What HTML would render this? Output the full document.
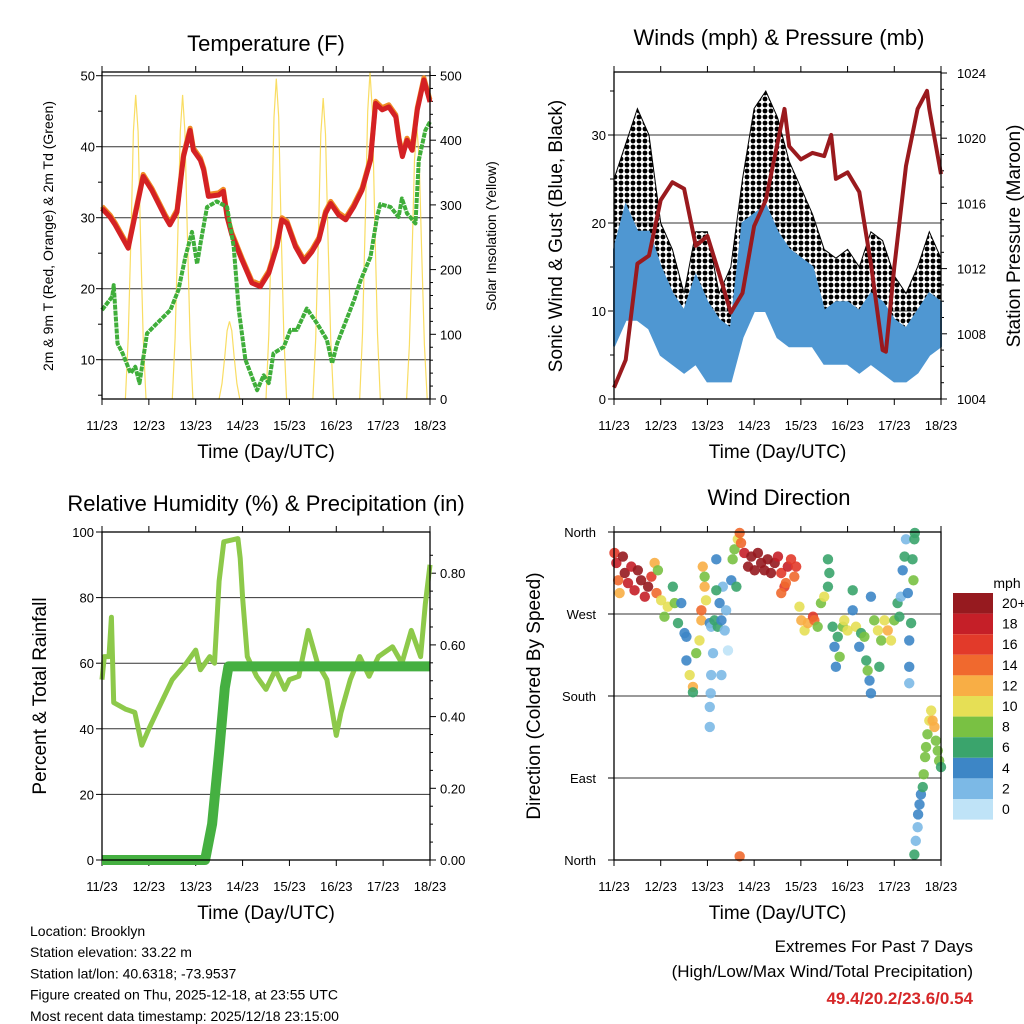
<!DOCTYPE html>
<html><head><meta charset="utf-8"><style>
html,body{margin:0;padding:0;background:#fff}
svg{display:block;font-family:"Liberation Sans",sans-serif}
</style></head><body>
<svg id="c" width="1024" height="1024" viewBox="0 0 1024 1024" xmlns="http://www.w3.org/2000/svg">
<defs>
<pattern id="dots" width="6" height="6" patternUnits="userSpaceOnUse"><circle cx="3" cy="3" r="2.4" fill="#000"/></pattern>
</defs>
</svg>
<script>
// ---------- DATA ----------
const dayLabels=["11/23","12/23","13/23","14/23","15/23","16/23","17/23","18/23"];
// Temperature (F)
const tempT=[0,0.17,0.28,0.56,0.88,1.06,1.35,1.45,1.6,1.74,1.88,1.95,2.1,2.17,2.27,2.49,2.59,2.67,2.77,2.99,3.2,3.38,3.56,3.73,3.84,3.95,4.13,4.31,4.48,4.63,4.77,4.88,5.05,5.2,5.37,5.55,5.73,5.84,5.98,6.12,6.27,6.34,6.41,6.51,6.62,6.73,6.87,7.0];
const tempV=[31.3,30.1,29,25.7,35.8,33.9,30.1,29,30.8,38.6,42.3,39.5,38.1,36.7,33,33.2,33.7,30.1,27.6,24,20.8,20.3,22.2,25.9,29.7,29.2,25.9,23.8,25.2,26.9,30.6,32,30.4,29.7,31.5,33.9,38.1,46.1,45.2,45.6,44.2,40.9,38.6,40.9,39.5,45.2,49.4,46.3];
const dewT=[0,0.22,0.25,0.33,0.44,0.61,0.71,0.8,0.96,1.17,1.46,1.63,1.78,1.92,2.03,2.1,2.24,2.45,2.67,2.81,2.92,3.06,3.31,3.45,3.56,3.66,3.88,4.02,4.16,4.37,4.59,4.8,4.91,5.02,5.38,5.52,5.73,5.87,5.94,6.16,6.33,6.4,6.51,6.69,6.76,6.9,7.0];
const dewV=[17,18.9,20.5,12.3,10.9,8.1,9,6.7,13.7,15.1,17,19.8,24.5,28,23.5,26.3,31.5,32.3,31.5,25.9,17,10,5.7,7.8,6.7,10.9,11.8,14.2,14.2,17.2,15.1,12.8,9.5,12.3,18.4,21.2,24.5,30.1,31.9,31.5,30.1,32.7,30.6,29.2,38.1,42.3,43.5];
const solarDay=[0,1,2,3,4,5,6];
const solarPeak=[470,470,120,495,465,505,420];
// Winds
const windT=[0,0.25,0.5,0.75,1,1.25,1.5,1.75,2,2.25,2.5,2.75,3,3.25,3.5,3.75,4,4.25,4.5,4.75,5,5.25,5.5,5.75,6,6.25,6.5,6.75,7];
const windLo=[6,9,9,8,5,4,3,4,2,2,2,7,10,10,7,6,6,6,4,4,4,3,4,3,2,2,3,5,6];
const windHi=[17,22,19,19,15,12,10,14,11,9,8,20,21,22,19,17,16,15,10,11,11,10,12,11,9,8,10,12,11];
const gustLo=[10,14,17,16,9,8,5,8,5,3,4,12,16,18,15,12,10,9,6,7,7,7,8,7,5,6,7,10,9];
const gustHi=[25,29,33,30,20,17,12,19,19,12,15,25,33,35,32,27,24,21,17,16,17,15,19,18,14,12,15,19,16];
const presT=[0,0.25,0.5,0.75,1,1.25,1.5,1.75,2,2.25,2.5,2.75,3,3.25,3.5,3.65,3.75,4,4.25,4.5,4.65,4.75,5,5.25,5.5,5.75,5.82,6,6.25,6.5,6.7,6.75,7];
const presV=[1004.7,1006.4,1012.3,1012.8,1016.2,1017.3,1016.9,1013.4,1014,1011.7,1009.3,1010.5,1014.6,1016.2,1019.7,1021.8,1019.5,1018.7,1019.1,1018.9,1020.2,1017.5,1017.9,1016.7,1012.3,1007,1006.9,1012.1,1018.3,1021.8,1022.9,1021.8,1017.8];
// RH & precip
const rhT=[0,0.05,0.15,0.2,0.25,0.5,0.7,0.85,1.0,1.2,1.5,1.8,2.0,2.1,2.3,2.4,2.5,2.6,2.9,2.95,3.0,3.1,3.3,3.5,3.7,3.9,4.0,4.2,4.4,4.6,4.8,5.0,5.1,5.3,5.5,5.7,5.9,6.2,6.4,6.6,6.8,6.9,7.0];
const rhV=[55,62,62,74,48,46,45,35,40,46,55,60,64,58,62,60,85,97,98,92,80,62,56,52,58,52,55,56,70,60,55,38,45,55,62,56,62,65,60,70,62,78,90];
const prT=[0,2.2,2.35,2.5,2.62,2.7,7.0];
const prV=[0,0,0.1,0.3,0.48,0.54,0.54];
// Wind direction
const dirT=[0.01,0.05,0.09,0.12,0.19,0.23,0.30,0.37,0.44,0.51,0.58,0.66,0.73,0.80,0.87,0.91,0.94,1.01,1.08,1.15,1.26,1.30,1.37,1.44,1.51,1.55,1.55,1.62,1.69,1.69,1.76,1.83,1.87,1.87,1.90,1.94,1.97,1.94,2.05,2.08,2.12,2.08,2.07,2.05,2.05,2.15,2.22,2.26,2.30,2.33,2.37,2.40,2.44,2.30,2.19,2.19,2.51,2.54,2.58,2.62,2.65,2.69,2.72,2.79,2.87,2.94,3.01,3.08,3.15,3.22,3.29,3.36,3.44,3.51,3.58,3.65,3.72,3.79,3.86,3.90,3.58,3.68,3.97,4.01,4.08,4.15,4.26,4.29,4.36,4.43,4.50,4.58,4.58,4.61,4.68,4.72,4.75,4.79,4.83,4.90,4.93,5.00,5.11,5.11,5.18,5.25,5.29,5.36,5.40,5.43,5.47,5.50,5.50,5.57,5.65,5.68,5.72,5.79,5.86,5.93,6.00,6.07,6.11,6.14,6.18,6.22,6.25,6.29,6.32,6.32,6.32,6.36,6.39,6.43,6.44,6.41,6.43,6.46,6.50,6.51,6.54,6.57,6.61,6.63,6.66,6.68,6.71,6.75,6.79,6.82,6.86,6.89,6.93,6.96,7.00,2.69];
const dirD=[337,326,307,293,333,315,304,322,296,318,307,289,300,311,326,293,318,285,267,278,300,282,260,282,249,245,219,203,190,184,227,241,263,274,322,300,285,311,260,256,227,203,183,168,146,263,256,282,263,300,252,274,230,203,330,296,307,330,341,300,352,359,348,337,322,333,318,337,326,318,330,315,326,333,315,300,322,330,311,322,293,304,278,263,252,260,267,263,256,282,289,300,330,315,256,234,212,245,223,256,263,252,296,274,256,234,249,245,219,208,197,183,289,263,252,212,241,263,252,241,263,282,267,289,318,333,352,293,241,212,194,260,330,352,359,307,6,21,36,50,61,72,80,94,113,124,138,153,164,153,146,131,120,109,102,4];
const dirS=[16,18,14,12,20,20,18,18,18,20,20,18,20,16,12,14,8,10,8,10,6,8,6,4,4,4,4,10,12,6,8,10,12,14,12,12,10,8,4,2,2,2,2,2,2,6,6,4,4,2,2,2,0,2,4,6,4,8,8,6,10,14,14,18,20,20,20,20,20,20,20,20,20,18,16,16,18,16,14,16,14,14,10,12,10,12,16,14,8,8,10,6,6,6,6,4,4,6,8,8,10,10,6,4,10,4,6,8,6,8,4,4,4,8,10,6,8,10,12,10,8,6,6,2,4,6,2,4,4,4,2,6,6,6,6,8,6,2,2,4,4,4,6,8,8,8,8,10,10,12,12,8,8,8,6,14];
const speedBins=[0,2,4,6,8,10,12,14,16,18,20];
const speedLabels=["0","2","4","6","8","10","12","14","16","18","20+"];
const speedColors=["#bfe3f7","#7cb9e6","#3d86c6","#3aa46c","#79c143","#e6df55","#f8ae45","#f0692e","#e23a2a","#c51f28","#961a1f"];
const extremes="49.4/20.2/23.6/0.54";

// ---------- HELPERS ----------
const svg=document.getElementById('c');
const NS="http://www.w3.org/2000/svg";
function el(tag,attrs,parent){const e=document.createElementNS(NS,tag);for(const k in attrs)e.setAttribute(k,attrs[k]);(parent||svg).appendChild(e);return e;}
function txt(s,x,y,size,anchor,parent,extra){const t=el('text',Object.assign({x:x,y:y,'font-size':size,'text-anchor':anchor||'middle',fill:'#000'},extra||{}),parent);t.textContent=s;return t;}
function frame(b,g){el('rect',{x:b.x0,y:b.y0,width:b.x1-b.x0,height:b.y1-b.y0,fill:'none',stroke:'#000','stroke-width':1.3},g);}
function xAxis(b,g){const sx=t=>b.x0+t/7*(b.x1-b.x0);
 for(let i=0;i<8;i++){const x=sx(i);
  el('line',{x1:x,y1:b.y1,x2:x,y2:b.y1+6,stroke:'#000','stroke-width':1},g);
  el('line',{x1:x,y1:b.y0,x2:x,y2:b.y0-6,stroke:'#000','stroke-width':1},g);
  const t=txt(dayLabels[i],x,b.y1+31,13,'middle',g);
  
  }
 const xt=txt("Time (Day/UTC)",(b.x0+b.x1)/2,b.y1+59,19,'middle',g);
 
 
 return sx;}
function grp(name){const g=el('g',{});return g;}
function pathFrom(T,V,sx,sy){return T.map((t,i)=>(i?'L':'M')+sx(t).toFixed(1)+','+sy(V[i]).toFixed(1)).join('');}

// ---------- PANEL 1: Temperature ----------
(function(){
 const g=grp('temperature-panel');
 const b={x0:102,x1:430,y0:72,y1:399};
 const sy=v=>75.7+(50-v)*7.1;
 const sS=v=>399-v*0.647;
 const sx=xAxis(b,g);
 const tt=txt("Temperature (F)",266,51,22,'middle',g);
 [10,20,30,40,50].forEach(v=>{el('line',{x1:b.x0,x2:b.x1,y1:sy(v),y2:sy(v),stroke:'#333','stroke-width':1},g);
  const l=txt(String(v),b.x0-7,sy(v)+5,13,'end',g);});
 for(let v=5;v<=50;v+=5)el('line',{x1:b.x0,x2:b.x0-(v%10?4:6),y1:sy(v),y2:sy(v),stroke:'#000'},g);
 for(let v=0;v<=500;v+=20)el('line',{x1:b.x1,x2:b.x1+(v%100?3:6),y1:sS(v),y2:sS(v),stroke:'#000'},g);
 [0,100,200,300,400,500].forEach(v=>{const l=txt(String(v),b.x1+10,sS(v)+5,13,'start',g);});
 const off=[-0.22,-0.16,-0.1,-0.05,0,0.05,0.1,0.16,0.22],fr=[0,0.2,0.55,0.88,1,0.88,0.55,0.2,0];
 solarDay.forEach((d,i)=>{let p='';off.forEach((o,k)=>{const t=Math.min(7,d+0.72+o);p+=(k?'L':'M')+sx(t).toFixed(1)+','+sS(solarPeak[i]*fr[k]).toFixed(1);});
  const s=el('path',{d:p,fill:'none',stroke:'#f7d43c','stroke-width':1.2,opacity:0.8},g);
  });
 const o=el('path',{d:pathFrom(tempT,tempV.map(v=>v+0.3),sx,sy),fill:'none',stroke:'#f08a24','stroke-width':5,'stroke-linejoin':'round'},g);
 
 const r=el('path',{d:pathFrom(tempT,tempV,sx,sy),fill:'none',stroke:'#d42124','stroke-width':5,'stroke-linejoin':'round'},g);
 
 const gr=el('path',{d:pathFrom(dewT,dewV,sx,sy),fill:'none',stroke:'#3fae3a','stroke-width':4,'stroke-dasharray':'5 1','stroke-linejoin':'round'},g);
 
 frame(b,g);
 const yl=txt("2m & 9m T (Red, Orange) & 2m Td (Green)",0,0,14,'middle',g,{transform:'translate(53,236) rotate(-90)'});
 const yr=txt("Solar Insolation (Yellow)",0,0,14,'middle',g,{transform:'translate(496,236) rotate(-90)'});
})();

// ---------- PANEL 2: Winds ----------
(function(){
 const g=grp('winds-panel');
 const b={x0:614,x1:941,y0:72,y1:399};
 const sy=v=>399-v*8.8;
 const sp=p=>399-(p-1004)*16.3;
 const sx=xAxis(b,g);
 const tt=txt("Winds (mph) & Pressure (mb)",779,45,22,'middle',g);
 [0,10,20,30].forEach(v=>{if(v)el('line',{x1:b.x0,x2:b.x1,y1:sy(v),y2:sy(v),stroke:'#333'},g);
  const l=txt(String(v),b.x0-8,sy(v)+5,13,'end',g);});
 for(let v=0;v<=35;v+=5)el('line',{x1:b.x0,x2:b.x0-(v%10?4:6),y1:sy(v),y2:sy(v),stroke:'#000'},g);
 for(let p=1004;p<=1024;p+=1)el('line',{x1:b.x1,x2:b.x1+(p%4?3:6),y1:sp(p),y2:sp(p),stroke:'#000'},g);
 [1004,1008,1012,1016,1020,1024].forEach(p=>{const l=txt(String(p),b.x1+16,sp(p)+5,13,'start',g);});
 function band(lo,hi){let p=windT.map((t,i)=>(i?'L':'M')+sx(t).toFixed(1)+','+sy(hi[i]).toFixed(1)).join('');
  for(let i=windT.length-1;i>=0;i--)p+='L'+sx(windT[i]).toFixed(1)+','+sy(lo[i]).toFixed(1);return p+'Z';}
 const gb=el('path',{d:band(gustLo,gustHi),fill:'url(#dots)',stroke:'#000','stroke-width':1},g);
 
 const wb=el('path',{d:band(windLo,windHi),fill:'#4f97d2',stroke:'#4f97d2','stroke-width':2},g);
 
 const pl=el('path',{d:pathFrom(presT,presV,sx,sp),fill:'none',stroke:'#9a1a1e','stroke-width':4,'stroke-linejoin':'round'},g);
 
 frame(b,g);
 const yl=txt("Sonic Wind & Gust (Blue, Black)",0,0,19,'middle',g,{transform:'translate(562,236) rotate(-90)'});
 const yr=txt("Station Pressure (Maroon)",0,0,19,'middle',g,{transform:'translate(1020,236) rotate(-90)'});
})();

// ---------- PANEL 3: RH & Precip ----------
(function(){
 const g=grp('humidity-panel');
 const b={x0:102,x1:430,y0:532,y1:860};
 const sy=v=>860-v*3.28;
 const sp=v=>860-v*358.5;
 const sx=xAxis(b,g);
 const tt=txt("Relative Humidity (%) & Precipitation (in)",266,511,22,'middle',g);
 [0,20,40,60,80,100].forEach(v=>{if(v&&v<100)el('line',{x1:b.x0,x2:b.x1,y1:sy(v),y2:sy(v),stroke:'#333'},g);
  el('line',{x1:b.x0,x2:b.x0-6,y1:sy(v),y2:sy(v),stroke:'#000'},g);
  const l=txt(String(v),b.x0-8,sy(v)+5,13,'end',g);});
 for(let v=0;v<=0.9;v+=0.05)el('line',{x1:b.x1,x2:b.x1+(Math.round(v*100)%20?3:6),y1:sp(v),y2:sp(v),stroke:'#000'},g);
 [0,0.2,0.4,0.6,0.8].forEach(v=>{const l=txt(v.toFixed(2),b.x1+10,sp(v)+5,13,'start',g);});
 const rh=el('path',{d:pathFrom(rhT,rhV,sx,sy),fill:'none',stroke:'#8dc94a','stroke-width':5,'stroke-linejoin':'round'},g);
 
 const pr=el('path',{d:pathFrom(prT,prV,sx,sp),fill:'none',stroke:'#45b041','stroke-width':10,'stroke-linejoin':'round'},g);
 
 frame(b,g);
 const yl=txt("Percent & Total Rainfall",0,0,19,'middle',g,{transform:'translate(46,696) rotate(-90)'});
})();

// ---------- PANEL 4: Wind Direction ----------
(function(){
 const g=grp('wind-direction-panel');
 const b={x0:614,x1:941,y0:532,y1:860};
 const sy=d=>860-d*0.9111;
 const sx=xAxis(b,g);
 const tt=txt("Wind Direction",779,505,22,'middle',g);
 const dl=["North","East","South","West","North"];
 [0,90,180,270,360].forEach((d,i)=>{if(d&&d<360)el('line',{x1:b.x0,x2:b.x1,y1:sy(d),y2:sy(d),stroke:'#333'},g);
  el('line',{x1:b.x0,x2:b.x0-6,y1:sy(d),y2:sy(d),stroke:'#000'},g);
  const l=txt(dl[i],b.x0-18,sy(d)+5,13,'end',g);});
 function color(s){let k=0;for(let i=0;i<speedBins.length;i++)if(s>=speedBins[i])k=i;return speedColors[k];}
 dirT.forEach((t,i)=>{const c=el('circle',{cx:sx(t),cy:sy(dirD[i]),r:5.2,fill:color(dirS[i]),opacity:0.9},g);
  
  });
 frame(b,g);
 const yl=txt("Direction (Colored By Speed)",0,0,19,'middle',g,{transform:'translate(540,696) rotate(-90)'});
 const cb=grp('speed-colorbar');
 const mt=txt("mph",1007,588,14,'middle',cb);
 for(let i=speedColors.length-1;i>=0;i--){const k=speedColors.length-1-i;const y=593+k*20.6;
  const r=el('rect',{x:953,y:y,width:40,height:20.6,fill:speedColors[i]},cb);
  
  const l=txt(speedLabels[i],1002,y+15,14,'start',cb);}
})();

// ---------- FOOTER ----------
(function(){
 const g=grp('station-info');
 ["Location: Brooklyn","Station elevation: 33.22 m","Station lat/lon: 40.6318; -73.9537","Figure created on Thu, 2025-12-18, at 23:55 UTC","Most recent data timestamp: 2025/12/18 23:15:00"].forEach((s,i)=>{
  const t=txt(s,30,936+i*21.2,14,'start',g);});
 const e=grp('extremes');
 const a=txt("Extremes For Past 7 Days",973,952,17,'end',e);
 const c=txt("(High/Low/Max Wind/Total Precipitation)",973,977,17,'end',e);
 const v=txt(extremes,973,1004,17,'end',e,{fill:'#d62728','font-weight':'bold'});
})();
</script>
</body></html>
